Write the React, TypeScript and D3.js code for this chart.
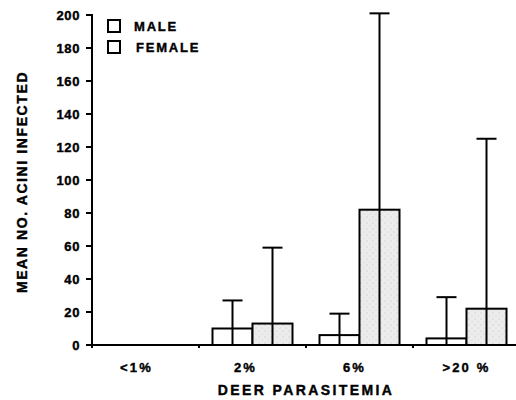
import React from 'react';
import * as d3 from 'd3';

const categories = ['<1%', '2%', '6%', '>20 %'];
const sexes = ['MALE', 'FEMALE'];
const maleMeans = [0, 10, 6, 4];
const maleUpper = [0, 27, 19, 29];
const femaleMeans = [0, 13, 82, 22];
const femaleUpper = [0, 59, 201, 125];
const yTicks = [0, 20, 40, 60, 80, 100, 120, 140, 160, 180, 200];

const W = 516;
const H = 400;
const FONT = '"Liberation Sans", Arial, Helvetica, sans-serif';

const App: React.FC = () => {
  // 坐标比例尺
  const x0 = d3.scaleBand<string>().domain(categories).range([92, 520]).paddingInner(0).paddingOuter(0);
  const groupW = 80;
  const x1 = d3.scaleBand<string>().domain(sexes).range([0, groupW]);
  const y = d3.scaleLinear().domain([0, 200]).range([345, 15]);

  const bars = categories.flatMap((c, i) => [
    { cat: c, sex: 'MALE', v: maleMeans[i], up: maleUpper[i] },
    { cat: c, sex: 'FEMALE', v: femaleMeans[i], up: femaleUpper[i] }
  ]).filter(d => d.v > 0);

  const barX = (d: { cat: string; sex: string }) =>
    (x0(d.cat) as number) + (x0.bandwidth() - groupW) / 2 + (x1(d.sex) as number);

  // 加粗文字
  const txt = { fill: '#000', stroke: '#000', strokeWidth: 0.4 };

  return (
    <svg width={W} height={H} style={{ position: 'absolute', left: 0, top: 0, background: '#fff' }}
      fontFamily={FONT} fontWeight="bold">
      <defs>
        <pattern id="stipple" width="6" height="6" patternUnits="userSpaceOnUse">
          <rect width="6" height="6" fill="#ececec" />
          <circle cx="1" cy="1" r="0.6" fill="#bdbdbd" />
          <circle cx="4" cy="4" r="0.5" fill="#c8c8c8" />
        </pattern>
      </defs>

      {/* 柱子 */}
      {bars.map((d, i) => {
        const bx = barX(d);
        const bw = x1.bandwidth();
        const cx = bx + bw / 2;
        return (
          <g key={i}>
            <rect x={bx} y={y(d.v)} width={bw} height={y(0) - y(d.v)}
              fill={d.sex === 'FEMALE' ? 'url(#stipple)' : '#fff'} stroke="#000" strokeWidth={2} />
            <line x1={cx} x2={cx} y1={y(0)} y2={y(d.up)} stroke="#000" strokeWidth={2} />
            <line x1={cx - 10} x2={cx + 10} y1={y(d.up)} y2={y(d.up)} stroke="#000" strokeWidth={2} />
          </g>
        );
      })}

      {/* Y 轴 */}
      <line x1={92} x2={92} y1={y(200) - 1} y2={y(0) + 3} stroke="#000" strokeWidth={2} />
      {yTicks.map(t => (
        <g key={t}>
          <line x1={86} x2={92} y1={y(t)} y2={y(t)} stroke="#000" strokeWidth={2} />
          <text x={80} y={y(t)} dy="0.36em" textAnchor="end" fontSize={13} letterSpacing={0.6} {...txt}>{t}</text>
        </g>
      ))}
      <text transform={`translate(27, ${y(100) + 2}) rotate(-90)`} textAnchor="middle"
        fontSize={14} letterSpacing={1.6} {...txt}>MEAN NO. ACINI INFECTED</text>

      {/* X 轴 */}
      <line x1={86} x2={W} y1={y(0)} y2={y(0)} stroke="#000" strokeWidth={2} />
      {categories.slice(1).map(c => (
        <line key={c} x1={x0(c) as number} x2={x0(c) as number} y1={y(0)} y2={y(0) + 3} stroke="#000" strokeWidth={2} />
      ))}
      {categories.map((c, i) => (
        <text key={c} x={(x0(c) as number) + x0.bandwidth() / 2 - [9, 7, 5, 0][i]} y={372}
          textAnchor="middle" fontSize={13} letterSpacing={2.2} {...txt}>{c}</text>
      ))}
      <text x={306} y={395} textAnchor="middle" fontSize={14} letterSpacing={2.4} {...txt}>DEER PARASITEMIA</text>

      {/* 图例 */}
      {sexes.map((s, i) => (
        <g key={s} transform={`translate(108, ${20 + i * 21})`}>
          <rect width={12} height={12} fill="#fff" stroke="#000" strokeWidth={2} />
          <text x={26 + i * 2} y={11} fontSize={13} letterSpacing={1.8} {...txt}>{s}</text>
        </g>
      ))}
    </svg>
  );
};

export default App;
